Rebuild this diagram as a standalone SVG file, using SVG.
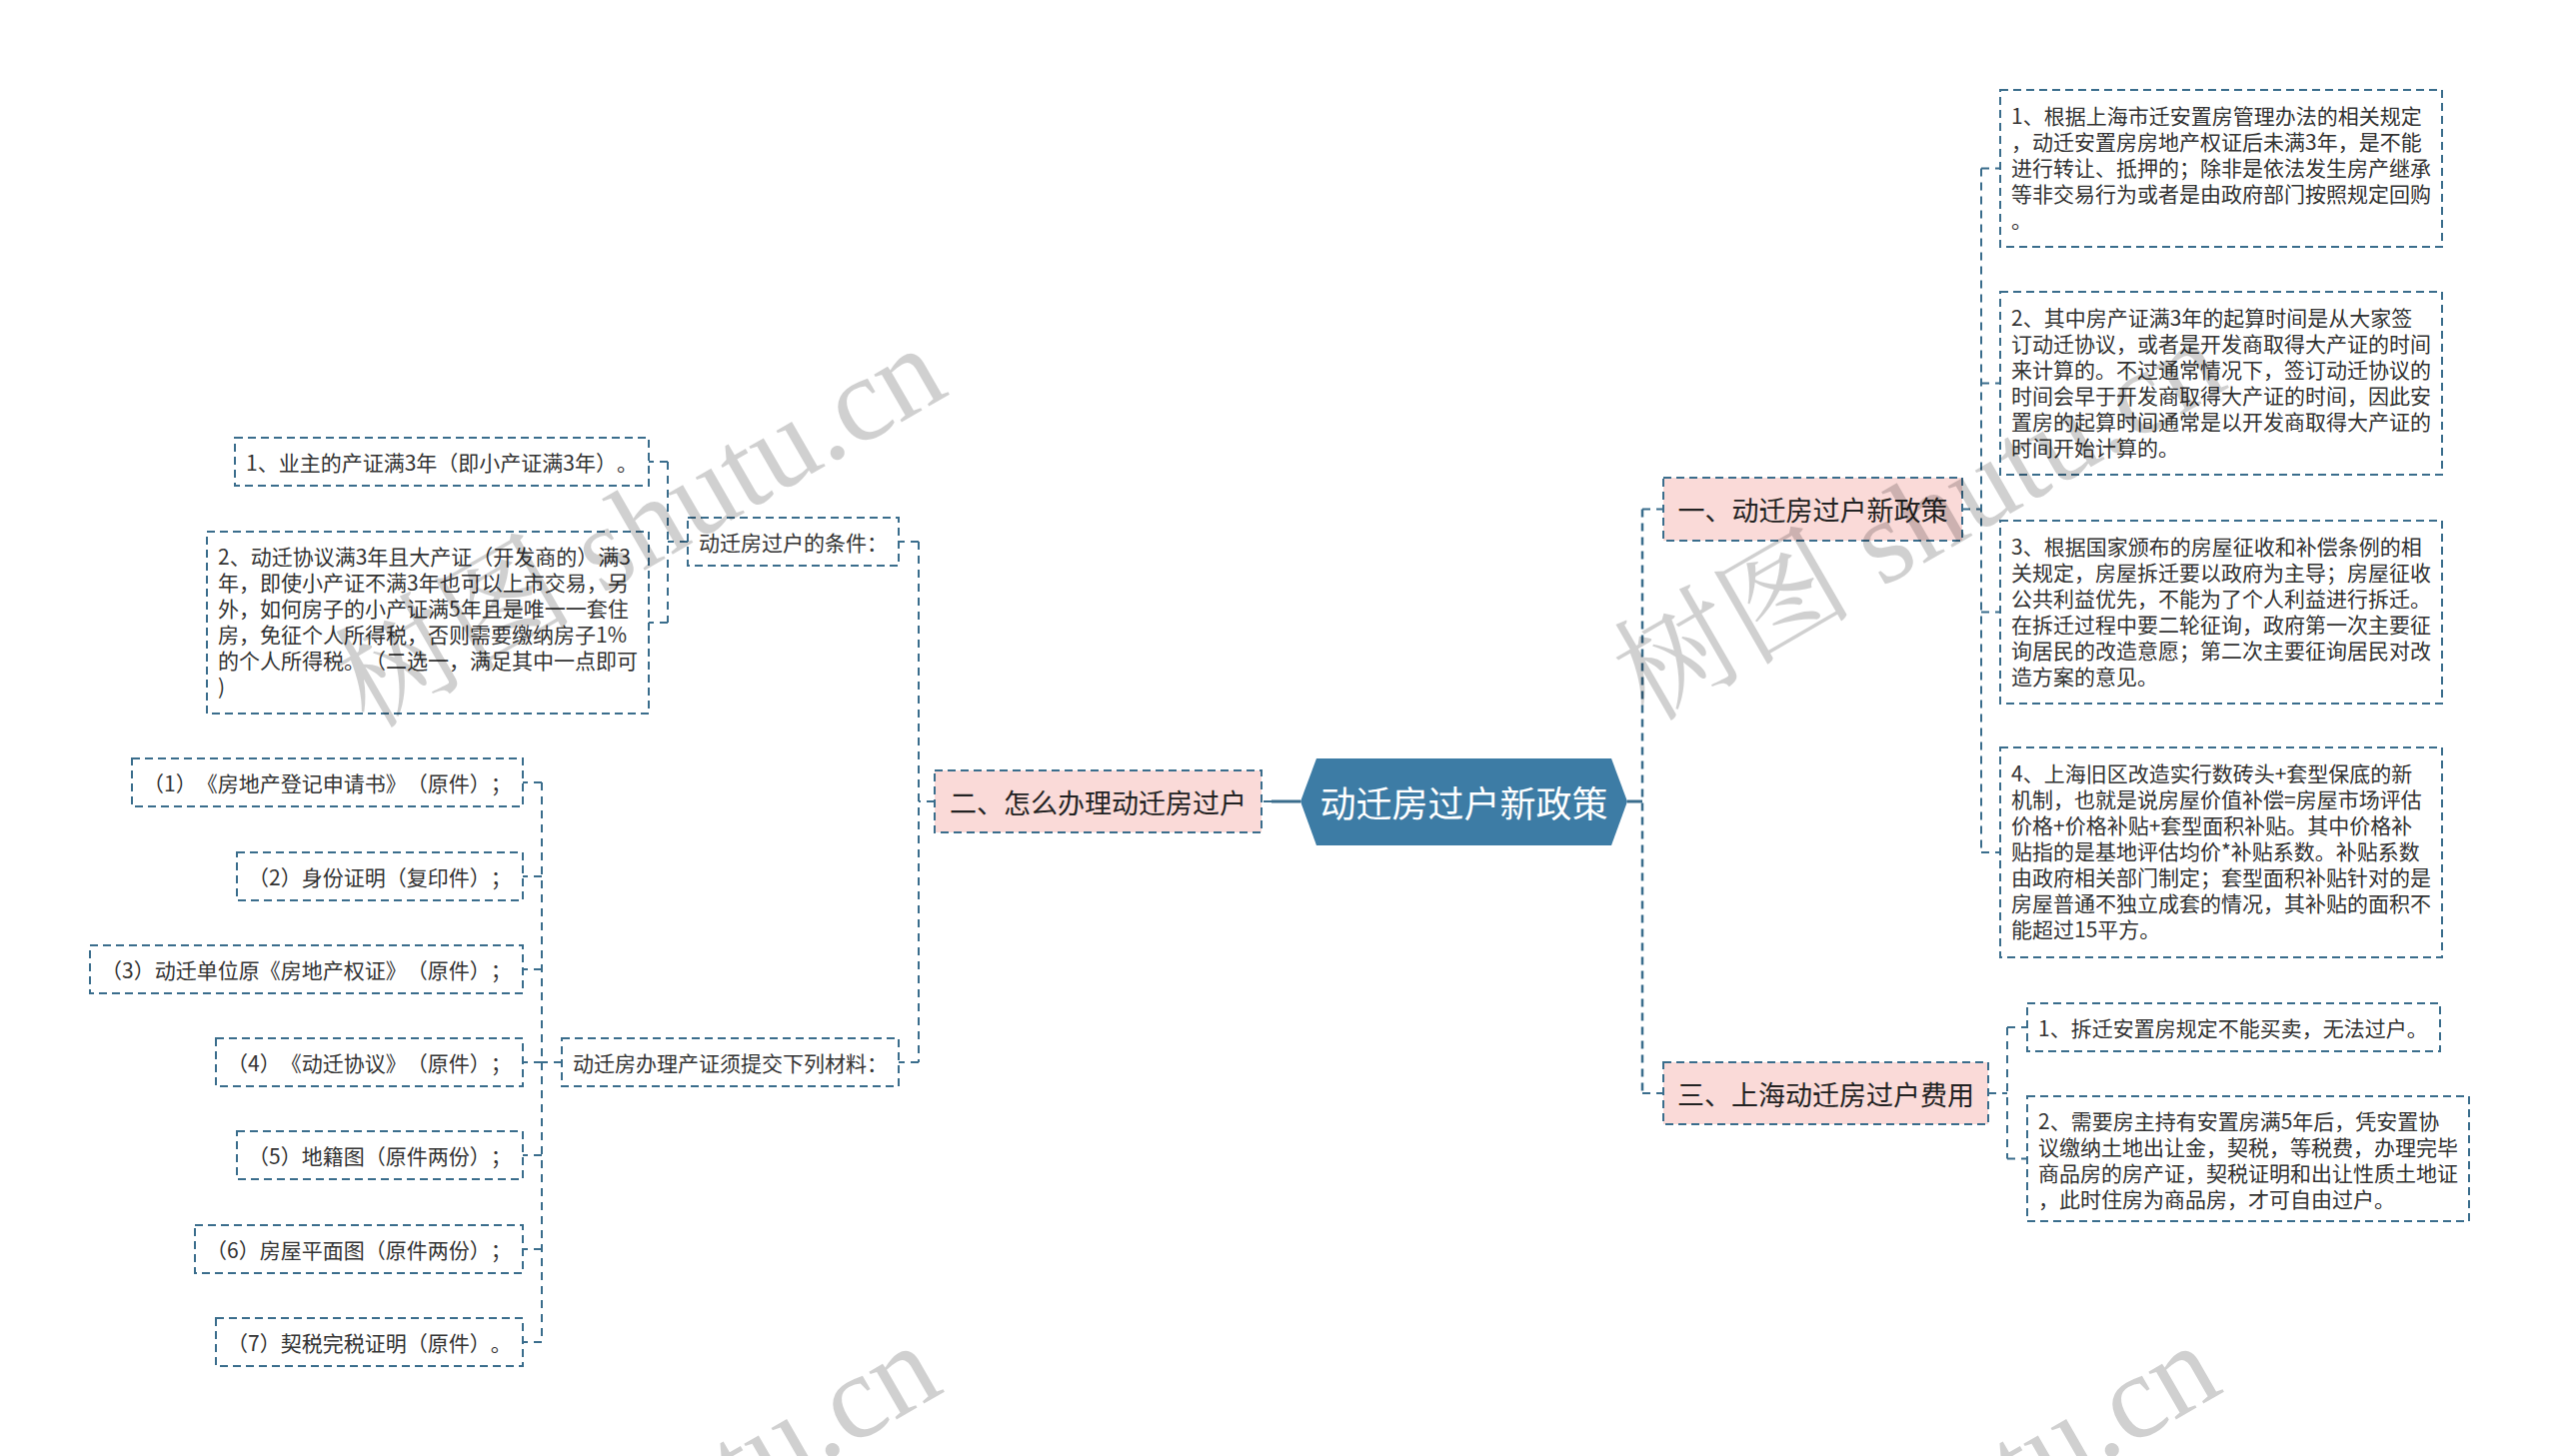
<svg xmlns="http://www.w3.org/2000/svg" width="2560" height="1457" viewBox="0 0 2560 1457">
<defs>
<style>
text{text-spacing-trim:space-all}
.bg{fill:#ffffff}
.l1{fill:#fadad8;stroke:#3a6d8c;stroke-width:2;stroke-dasharray:8 5}
.l3{fill:#ffffff;stroke:#3a6d8c;stroke-width:2;stroke-dasharray:8 5}
.c{fill:none;stroke:#3a6d8c;stroke-width:2;stroke-dasharray:8 6}
.cs{fill:none;stroke:#3a6d8c;stroke-width:3}
.t1{font-family:"Noto Sans CJK SC","Microsoft YaHei",sans-serif;font-size:27px;fill:#222;dominant-baseline:central;text-anchor:middle}
.t3{font-family:"Noto Sans CJK SC","Microsoft YaHei",sans-serif;font-size:21px;fill:#333;dominant-baseline:central}
.root{font-family:"Noto Sans CJK SC","Microsoft YaHei",sans-serif;font-size:36px;fill:#ffffff;dominant-baseline:central;text-anchor:middle}
.wm{font-family:"Liberation Serif","Noto Serif CJK SC","Noto Sans CJK SC",serif;font-size:120px;fill:#000;opacity:0.18;text-anchor:middle}
</style>
</defs>
<rect class="bg" x="0" y="0" width="2560" height="1457"/>

<g id="connectors">
<path class="cs" d="M1628 802 H1643"/>
<path class="cs" d="M1301 802 H1272"/>
<path class="c" d="M1272 802 H1262"/>
<path class="c" d="M1643 509.5 V1094" style="stroke-width:2.5"/>
<path class="c" d="M1643 509.5 H1664 M1643 1094 H1664"/>
<path class="c" d="M1963 509.5 H1982 M1982 168.5 V853 M1982 168.5 H2001 M1982 383.5 H2001 M1982 612.5 H2001 M1982 853 H2001"/>
<path class="c" d="M1989 1094 H2008 M2008 1028 V1159.5 M2008 1028 H2028 M2008 1159.5 H2028"/>
<path class="c" d="M935 802 H919 M919 542 V1063 M919 542 H899 M919 1063 H899"/>
<path class="c" d="M688 542 H668 M668 462 V623 M668 462 H649 M668 623 H649"/>
<path class="c" d="M562 1063 H542 M542 783 V1343 M542 783 H523 M542 877 H523 M542 970 H523 M542 1063 H523 M542 1156 H523 M542 1250 H523 M542 1343 H523"/>
</g>

<g id="root">
<polygon points="1301,802 1317,759 1612,759 1628,802 1612,846 1317,846" fill="#3d7ca5"/>
<text class="root" x="1464.5" y="802">动迁房过户新政策</text>
</g>

<g id="n1">
<rect class="l1" x="1664" y="478" width="299" height="63"/>
<text class="t1" x="1813.5" y="509.5">一、动迁房过户新政策</text>
</g>
<g id="n2">
<rect class="l1" x="935" y="771" width="327" height="62"/>
<text class="t1" x="1098.5" y="802">二、怎么办理动迁房过户</text>
</g>
<g id="n3">
<rect class="l1" x="1664" y="1063" width="325" height="62"/>
<text class="t1" x="1826.5" y="1094">三、上海动迁房过户费用</text>
</g>

<g id="n1-1">
<rect class="l3" x="2001" y="90" width="442" height="157"/>
<text class="t3" x="2012" y="114.5"><tspan x="2012">1、根据上海市迁安置房管理办法的相关规定</tspan><tspan x="2012" dy="26">，动迁安置房房地产权证后未满3年，是不能</tspan><tspan x="2012" dy="26">进行转让、抵押的；除非是依法发生房产继承</tspan><tspan x="2012" dy="26">等非交易行为或者是由政府部门按照规定回购</tspan><tspan x="2012" dy="26">。</tspan></text>
</g>
<g id="n1-2">
<rect class="l3" x="2001" y="292" width="442" height="183"/>
<text class="t3" x="2012" y="316.5"><tspan x="2012">2、其中房产证满3年的起算时间是从大家签</tspan><tspan x="2012" dy="26">订动迁协议，或者是开发商取得大产证的时间</tspan><tspan x="2012" dy="26">来计算的。不过通常情况下，签订动迁协议的</tspan><tspan x="2012" dy="26">时间会早于开发商取得大产证的时间，因此安</tspan><tspan x="2012" dy="26">置房的起算时间通常是以开发商取得大产证的</tspan><tspan x="2012" dy="26">时间开始计算的。</tspan></text>
</g>
<g id="n1-3">
<rect class="l3" x="2001" y="521" width="442" height="183"/>
<text class="t3" x="2012" y="545.5"><tspan x="2012">3、根据国家颁布的房屋征收和补偿条例的相</tspan><tspan x="2012" dy="26">关规定，房屋拆迁要以政府为主导；房屋征收</tspan><tspan x="2012" dy="26">公共利益优先，不能为了个人利益进行拆迁。</tspan><tspan x="2012" dy="26">在拆迁过程中要二轮征询，政府第一次主要征</tspan><tspan x="2012" dy="26">询居民的改造意愿；第二次主要征询居民对改</tspan><tspan x="2012" dy="26">造方案的意见。</tspan></text>
</g>
<g id="n1-4">
<rect class="l3" x="2001" y="748" width="442" height="210"/>
<text class="t3" x="2012" y="773"><tspan x="2012">4、上海旧区改造实行数砖头+套型保底的新</tspan><tspan x="2012" dy="26">机制，也就是说房屋价值补偿=房屋市场评估</tspan><tspan x="2012" dy="26">价格+价格补贴+套型面积补贴。其中价格补</tspan><tspan x="2012" dy="26">贴指的是基地评估均价*补贴系数。补贴系数</tspan><tspan x="2012" dy="26">由政府相关部门制定；套型面积补贴针对的是</tspan><tspan x="2012" dy="26">房屋普通不独立成套的情况，其补贴的面积不</tspan><tspan x="2012" dy="26">能超过15平方。</tspan></text>
</g>

<g id="n3-1">
<rect class="l3" x="2028" y="1004" width="413" height="48"/>
<text class="t3" x="2039" y="1028">1、拆迁安置房规定不能买卖，无法过户。</text>
</g>
<g id="n3-2">
<rect class="l3" x="2028" y="1097" width="442" height="125"/>
<text class="t3" x="2039" y="1121"><tspan x="2039">2、需要房主持有安置房满5年后，凭安置协</tspan><tspan x="2039" dy="26">议缴纳土地出让金，契税，等税费，办理完毕</tspan><tspan x="2039" dy="26">商品房的房产证，契税证明和出让性质土地证</tspan><tspan x="2039" dy="26">，此时住房为商品房，才可自由过户。</tspan></text>
</g>

<g id="n2-1">
<rect class="l3" x="688" y="518" width="211" height="48"/>
<text class="t3" x="699" y="542">动迁房过户的条件：</text>
</g>
<g id="n2-1-1">
<rect class="l3" x="235" y="438" width="414" height="48"/>
<text class="t3" x="246" y="462">1、业主的产证满3年（即小产证满3年）。</text>
</g>
<g id="n2-1-2">
<rect class="l3" x="207" y="532" width="442" height="182"/>
<text class="t3" x="218" y="556"><tspan x="218">2、动迁协议满3年且大产证（开发商的）满3</tspan><tspan x="218" dy="26">年，即使小产证不满3年也可以上市交易，另</tspan><tspan x="218" dy="26">外，如何房子的小产证满5年且是唯一一套住</tspan><tspan x="218" dy="26">房，免征个人所得税，否则需要缴纳房子1%</tspan><tspan x="218" dy="26">的个人所得税。（二选一，满足其中一点即可</tspan><tspan x="218" dy="26">)</tspan></text>
</g>

<g id="n2-2">
<rect class="l3" x="562" y="1039" width="337" height="48"/>
<text class="t3" x="573" y="1063">动迁房办理产证须提交下列材料：</text>
</g>
<g id="m1">
<rect class="l3" x="132" y="759" width="391" height="48"/>
<text class="t3" x="143" y="783">（1）《房地产登记申请书》（原件）；</text>
</g>
<g id="m2">
<rect class="l3" x="237" y="853" width="286" height="48"/>
<text class="t3" x="248" y="877">（2）身份证明（复印件）；</text>
</g>
<g id="m3">
<rect class="l3" x="90" y="946" width="433" height="48"/>
<text class="t3" x="101" y="970">（3）动迁单位原《房地产权证》（原件）；</text>
</g>
<g id="m4">
<rect class="l3" x="216" y="1039" width="307" height="48"/>
<text class="t3" x="227" y="1063">（4）《动迁协议》（原件）；</text>
</g>
<g id="m5">
<rect class="l3" x="237" y="1132" width="286" height="48"/>
<text class="t3" x="248" y="1156">（5）地籍图（原件两份）；</text>
</g>
<g id="m6">
<rect class="l3" x="195" y="1226" width="328" height="48"/>
<text class="t3" x="206" y="1250">（6）房屋平面图（原件两份）；</text>
</g>
<g id="m7">
<rect class="l3" x="216" y="1319" width="307" height="48"/>
<text class="t3" x="227" y="1343">（7）契税完税证明（原件）。</text>
</g>

<g id="watermarks">
<text class="wm" transform="translate(660,562) rotate(-30)">树图 shutu.cn</text>
<text class="wm" transform="translate(1940,555) rotate(-30)">树图 shutu.cn</text>
<text class="wm" transform="translate(655,1560) rotate(-30)">树图 shutu.cn</text>
<text class="wm" transform="translate(1935,1560) rotate(-30)">树图 shutu.cn</text>
</g>
</svg>
